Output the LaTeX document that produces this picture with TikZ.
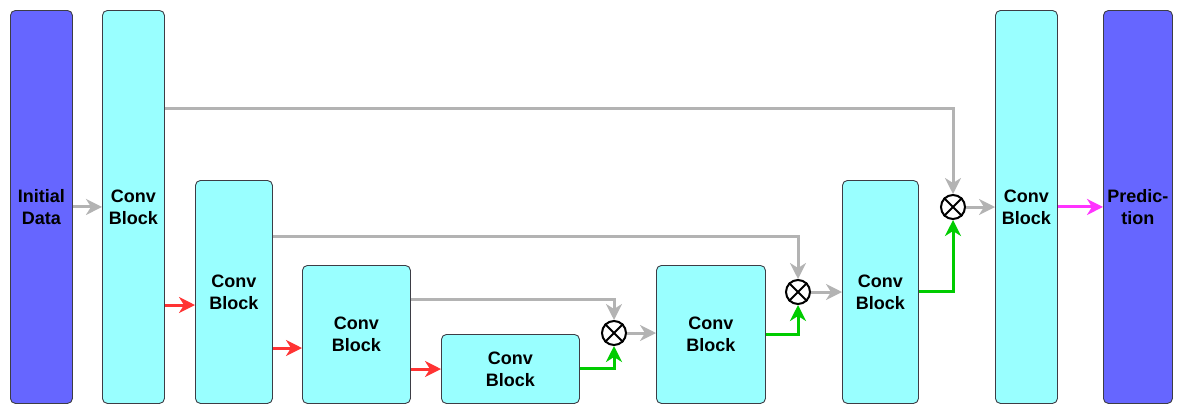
\documentclass[tikz,border=0pt]{standalone}
\usepackage{fontspec}
\setmainfont{Liberation Sans}
\usetikzlibrary{arrows.meta}
\definecolor{inout}{HTML}{6666FF}
\definecolor{conv}{HTML}{99FFFF}
\definecolor{edge}{HTML}{3D3D45}
\definecolor{skipc}{HTML}{B3B3B3}
\definecolor{downc}{HTML}{FF3333}
\definecolor{upc}{HTML}{00CC00}
\definecolor{outc}{HTML}{FF33FF}
\tikzset{
  blk/.style={draw=edge, line width=0.9pt, rounded corners=5pt, anchor=north west,
    align=center, inner sep=0pt, font=\bfseries\fontsize{18}{22}\selectfont},
  dbox/.style={blk, fill=inout},
  cbox/.style={blk, fill=conv},
  mul/.style={circle, draw=black, line width=2pt, minimum size=24pt, inner sep=0pt},
  arr/.style={line width=3pt, -{Stealth[length=16pt,width=16pt,inset=5pt]}},
  skiparr/.style={arr, draw=skipc, color=skipc},
  downarr/.style={arr, color=downc},
  uparr/.style={arr, color=upc},
  outarr/.style={arr, color=outc},
}
\begin{document}
\begin{tikzpicture}[x=1pt,y=-1pt]
\useasboundingbox (0,0) rectangle (1182,413);
\node[dbox, minimum width=62, minimum height=393] (init) at (10,10) {Initial\\Data};
\node[cbox, minimum width=62, minimum height=393] (c1) at (102,10) {Conv\\Block};
\node[cbox, minimum width=77, minimum height=223] (c2) at (195,180) {Conv\\Block};
\node[cbox, minimum width=108, minimum height=138] (c3) at (302,265) {Conv\\Block};
\node[cbox, minimum width=138, minimum height=69] (c4) at (441,334) {Conv\\Block};
\node[cbox, minimum width=109, minimum height=138] (c5) at (656,265) {Conv\\Block};
\node[cbox, minimum width=76, minimum height=223] (c6) at (842,180) {Conv\\Block};
\node[cbox, minimum width=62, minimum height=393] (c7) at (995,10) {Conv\\Block};
\node[dbox, minimum width=69, minimum height=393] (pred) at (1103,10) {Predic-\\tion};
\node[mul] (m1) at (614,333) {};
\node[mul] (m2) at (798,292) {};
\node[mul] (m3) at (953,207) {};
\foreach \m in {m1,m2,m3}{
  \draw[line width=2pt] (\m.45) -- (\m.225) (\m.135) -- (\m.315);
}
% skip connections
\draw[skiparr] (init) -- (c1);
\draw[skiparr] (c1.east |- 0,108) -| (m3);
\draw[skiparr] (c2.east |- 0,236) -| (m2);
\draw[skiparr] (c3.east |- 0,299) -| (m1);
% downsampling
\draw[downarr] (c1.east |- 0,305) -- (c2.west |- 0,305);
\draw[downarr] (c2.east |- 0,348) -- (c3.west |- 0,348);
\draw[downarr] (c3.east |- 0,369) -- (c4.west |- 0,369);
% upsampling
\draw[uparr] (c4) -| (m1);
\draw[uparr] (c5) -| (m2);
\draw[uparr] (c6) -| (m3);
% merged outputs
\draw[skiparr] (m1) -- (m1 -| c5.west);
\draw[skiparr] (m2) -- (m2 -| c6.west);
\draw[skiparr] (m3) -- (m3 -| c7.west);
\draw[outarr] (c7) -- (pred);
\end{tikzpicture}
\end{document}
